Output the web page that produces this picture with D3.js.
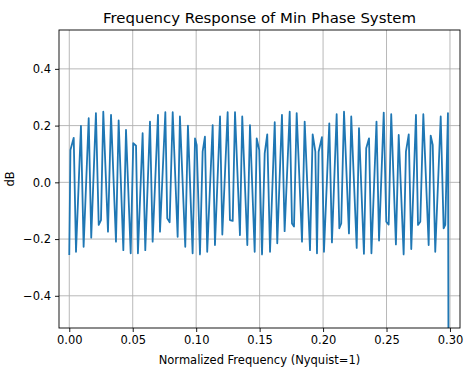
<!DOCTYPE html>
<html>
<head>
<meta charset="utf-8">
<script src="https://cdn.jsdelivr.net/npm/d3@7"></script>
<style>
  body { margin: 0; background: #fff; }
  text { font-family: "DejaVu Sans", sans-serif; }
</style>
</head>
<body>
<div class="chart"></div>
<script>
// vertices (normalized freq, dB)
const freq = [0.0000, 0.0009, 0.0035, 0.0053, 0.0092, 0.0113, 0.0153, 0.0173, 0.0210, 0.0232,
  0.0250, 0.0268, 0.0305, 0.0329, 0.0368, 0.0389, 0.0426, 0.0447, 0.0484, 0.0504,
  0.0526, 0.0541, 0.0578, 0.0599, 0.0636, 0.0657, 0.0699, 0.0715, 0.0757, 0.0772,
  0.0791, 0.0815, 0.0854, 0.0872, 0.0914, 0.0935, 0.0972, 0.0991, 0.1004, 0.1030,
  0.1051, 0.1069, 0.1087, 0.1130, 0.1148, 0.1188, 0.1206, 0.1248, 0.1266, 0.1288,
  0.1306, 0.1345, 0.1363, 0.1403, 0.1424, 0.1461, 0.1477, 0.1497, 0.1519, 0.1540,
  0.1560, 0.1582, 0.1619, 0.1639, 0.1676, 0.1697, 0.1737, 0.1755, 0.1771, 0.1792,
  0.1834, 0.1855, 0.1897, 0.1918, 0.1939, 0.1952, 0.1965, 0.1991, 0.2007, 0.2049,
  0.2070, 0.2107, 0.2128, 0.2143, 0.2165, 0.2204, 0.2222, 0.2265, 0.2283, 0.2322,
  0.2340, 0.2362, 0.2381, 0.2421, 0.2441, 0.2478, 0.2498, 0.2517, 0.2537, 0.2574,
  0.2596, 0.2635, 0.2653, 0.2675, 0.2695, 0.2732, 0.2748, 0.2766, 0.2790, 0.2832,
  0.2848, 0.2864, 0.2884, 0.2927, 0.2950, 0.2963, 0.2984, 0.3000]
const dB = [-0.256, 0.114, 0.157, -0.245, 0.199, -0.227, 0.226, -0.195, 0.244, -0.150,
  -0.133, 0.249, -0.174, 0.238, -0.209, 0.218, -0.239, 0.185, -0.250, 0.138,
  0.129, -0.250, 0.173, -0.239, 0.214, -0.209, 0.238, -0.174, 0.247, -0.127,
  -0.141, 0.247, -0.192, 0.232, -0.227, 0.200, -0.250, 0.155, 0.132, -0.254,
  0.108, 0.161, -0.245, 0.202, -0.221, 0.232, -0.184, 0.247, -0.133, -0.136,
  0.247, -0.186, 0.232, -0.221, 0.202, -0.245, 0.155, 0.114, -0.254, 0.102,
  0.169, -0.245, 0.212, -0.215, 0.238, -0.172, 0.249, -0.145, -0.156, 0.244,
  -0.209, 0.214, -0.239, 0.169, 0.108, -0.250, 0.108, 0.159, -0.245, 0.208,
  -0.212, 0.240, -0.162, -0.145, 0.249, -0.180, 0.232, -0.231, 0.191, -0.252,
  0.120, 0.155, -0.250, 0.214, -0.205, 0.246, -0.139, -0.149, 0.240, -0.219,
  0.167, -0.254, 0.108, 0.169, -0.235, 0.238, -0.150, -0.139, 0.240, -0.221,
  0.165, 0.132, -0.245, 0.232, -0.162, -0.150, 0.244, -3.0]

const xTicks = [0.00, 0.05, 0.10, 0.15, 0.20, 0.25, 0.30]
const yTicks = [-0.4, -0.2, 0.0, 0.2, 0.4]
const xDomain = [-0.0081, 0.3079]
const yDomain = [-0.5135, 0.537]

const width = 468
const height = 370
const margin = {top: 30, right: 8, bottom: 42, left: 59}
const iw = width - margin.left - margin.right
const ih = height - margin.top - margin.bottom

const svg = d3.select('.chart')
  .append('svg')
  .attr('width', width)
  .attr('height', height)

const g = svg.append('g')
  .attr('transform', `translate(${margin.left},${margin.top})`)

const x = d3.scaleLinear().domain(xDomain).range([0, iw])
const y = d3.scaleLinear().domain(yDomain).range([ih, 0])

// grid
g.append('g')
  .selectAll('line')
  .data(xTicks)
  .enter()
  .append('line')
  .attr('x1', d => x(d)).attr('x2', d => x(d))
  .attr('y1', 0).attr('y2', ih)
  .attr('stroke', '#b0b0b0')
  .attr('stroke-width', 0.9)
g.append('g')
  .selectAll('line')
  .data(yTicks)
  .enter()
  .append('line')
  .attr('x1', 0).attr('x2', iw)
  .attr('y1', d => y(d)).attr('y2', d => y(d))
  .attr('stroke', '#b0b0b0')
  .attr('stroke-width', 0.9)

g.append('clipPath').attr('id', 'clip')
  .append('rect').attr('width', iw).attr('height', ih)

const line = d3.line()
  .x((d, i) => x(freq[i]))
  .y(d => y(d))

g.append('path')
  .datum(dB)
  .attr('clip-path', 'url(#clip)')
  .attr('fill', 'none')
  .attr('stroke', '#1f77b4')
  .attr('stroke-width', 1.8)
  .attr('stroke-linejoin', 'round')
  .attr('d', line)

// axes
const xAxis = g.append('g')
  .attr('transform', `translate(0,${ih})`)
  .call(d3.axisBottom(x).tickValues(xTicks).tickFormat(d3.format('.2f')).tickSizeOuter(0).tickSize(4).tickPadding(4))
const yAxis = g.append('g')
  .call(d3.axisLeft(y).tickValues(yTicks).tickFormat(d3.format('.1f')).tickSizeOuter(0).tickSize(4).tickPadding(4))
for (const a of [xAxis, yAxis]) {
  a.select('.domain').remove()
  a.selectAll('text').attr('font-size', 11.5).attr('fill', '#000')
    .attr('font-family', '"DejaVu Sans", sans-serif')
  a.selectAll('line').attr('stroke', '#000').attr('stroke-width', 0.9)
}
yAxis.selectAll('text').text(d => d3.format('.1f')(d).replace('-', '\u2212'))

g.append('rect')
  .attr('width', iw).attr('height', ih)
  .attr('fill', 'none')
  .attr('stroke', '#000')
  .attr('stroke-width', 0.9)

svg.append('text')
  .attr('x', margin.left + iw / 2)
  .attr('y', 23)
  .attr('text-anchor', 'middle')
  .attr('font-size', 14.9)
  .text('Frequency Response of Min Phase System')

svg.append('text')
  .attr('x', margin.left + iw / 2)
  .attr('y', 364)
  .attr('text-anchor', 'middle')
  .attr('font-size', 11.5)
  .text('Normalized Frequency (Nyquist=1)')

svg.append('text')
  .attr('transform', `translate(14,${margin.top + ih / 2}) rotate(-90)`)
  .attr('text-anchor', 'middle')
  .attr('font-size', 11.5)
  .text('dB')
</script>
</body>
</html>
